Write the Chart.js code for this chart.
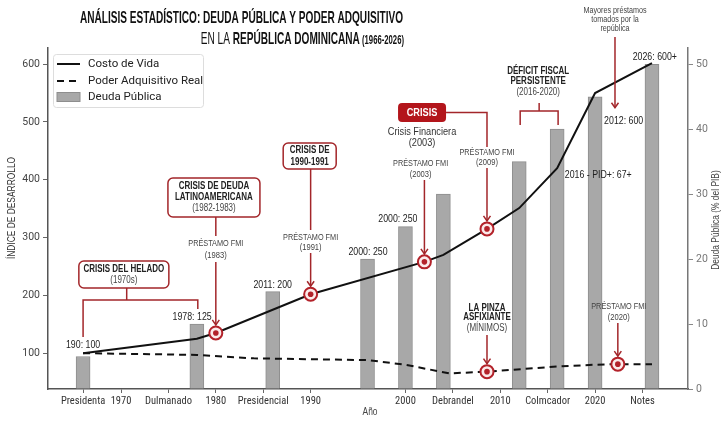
<!DOCTYPE html>
<html lang="es">
<head>
<meta charset="UTF-8">
<title>Deuda Pública y Poder Adquisitivo - República Dominicana</title>
<style>
  body { margin: 0; background: #ffffff; }
  #wrap { width: 728px; height: 425px; }
</style>
</head>
<body>
<div id="wrap"><canvas id="chart" width="728" height="425"></canvas></div>

<script src="https://cdn.jsdelivr.net/npm/chart.js@4.4.1/dist/chart.umd.min.js"></script>
<script>
  // --- data ---
  const costYears  = [1966, 1978, 1980, 1990, 2002, 2004, 2008.6, 2012, 2016, 2020, 2026];
  const costValues = [100, 125, 135, 202, 258, 270, 315, 351, 420, 550, 602];

  const realYears  = [1966, 1978, 1984, 1996, 2000, 2004.6, 2008.6, 2016, 2020, 2022.4, 2026];
  const realValues = [100, 97, 91, 88, 80, 65, 68, 77, 80, 81, 81];

  const debtYears  = [1966, 1978, 1986, 1996, 2000, 2004, 2012, 2016, 2020, 2026];
  const debtValues = [5, 10, 15, 20, 25, 30, 35, 40, 45, 50];

  const xTickValues = [1966, 1970, 1975, 1980, 1985, 1990, 2000, 2005, 2010, 2015, 2020, 2025];
  const xTickLabels = ['Presidenta', '1970', 'Dulmanado', '1980', 'Presidencial', '1990',
                       '2000', 'Debrandel', '2010', 'Colmcador', '2020', 'Notes'];
  const leftTicks  = [100, 200, 300, 400, 500, 600];
  const rightTicks = [0, 10, 20, 30, 40, 50];

  // points that get a red ring marker
  const costMarks = [1980, 1990, 2002, 2008.6];
  const realMarks = [2008.6, 2022.4];

  const RED = '#a3262a';
  const NARROW = 0.8;

  const pts = (xs, ys) => xs.map((x, i) => ({ x: x, y: ys[i] }));

  // --- small drawing helpers ---
  function txt(ctx, s, x, y, size, opt) {
    opt = opt || {};
    ctx.save();
    ctx.font = (opt.bold ? 'bold ' : '') + size + 'px "Liberation Sans", Arial, sans-serif';
    ctx.fillStyle = opt.color || '#222';
    ctx.textBaseline = 'middle';
    const sx = opt.sx || NARROW;
    const w = ctx.measureText(s).width * sx;
    const left = opt.align === 'left' ? x : opt.align === 'right' ? x - w : x - w / 2;
    ctx.translate(left, y);
    ctx.scale(sx, 1);
    ctx.fillText(s, 0, 0);
    ctx.restore();
    return w;
  }
  function poly(ctx, p, color, w) {
    ctx.save();
    ctx.strokeStyle = color; ctx.lineWidth = w || 1.5;
    ctx.beginPath();
    ctx.moveTo(p[0][0], p[0][1]);
    for (let i = 1; i < p.length; i++) ctx.lineTo(p[i][0], p[i][1]);
    ctx.stroke();
    ctx.restore();
  }
  function arrow(ctx, x, y1, y2) {
    poly(ctx, [[x, y1], [x, y2]], RED, 1.5);
    poly(ctx, [[x - 3.5, y2 - 5], [x, y2], [x + 3.5, y2 - 5]], RED, 1.5);
  }
  function ring(ctx, x, y) {
    ctx.save();
    ctx.beginPath(); ctx.arc(x, y, 6.5, 0, Math.PI * 2);
    ctx.fillStyle = '#fbeaea'; ctx.fill();
    ctx.lineWidth = 2; ctx.strokeStyle = '#b3222a'; ctx.stroke();
    ctx.beginPath(); ctx.arc(x, y, 2.8, 0, Math.PI * 2);
    ctx.fillStyle = '#b3222a'; ctx.fill();
    ctx.restore();
  }
  function box(ctx, cx, cy, w, h, fill) {
    ctx.save();
    ctx.beginPath();
    ctx.roundRect(cx - w / 2, cy - h / 2, w, h, 5);
    ctx.fillStyle = fill || '#ffffff'; ctx.fill();
    ctx.lineWidth = 1.5; ctx.strokeStyle = RED; ctx.stroke();
    ctx.restore();
  }

  const annotations = {
    id: 'annotations',
    afterDraw(chart) {
      const { ctx } = chart;
      const xs = chart.scales.x, ys = chart.scales.y;
      const X = v => xs.getPixelForValue(v);
      const Y = v => ys.getPixelForValue(v);
      const costAt = yr => costValues[costYears.indexOf(yr)];
      const realAt = yr => realValues[realYears.indexOf(yr)];

      // title
      ctx.save();
      ctx.font = 'bold 17px "Liberation Sans", Arial, sans-serif';
      const t1 = 'ANÁLISIS ESTADÍSTICO: DEUDA PÚBLICA Y PODER ADQUISITIVO';
      const tsx = 323 / ctx.measureText(t1).width;
      ctx.restore();
      txt(ctx, t1, 80, 18, 17, { bold: true, sx: tsx, align: 'left', color: '#111' });
      const parts = [['EN LA ', 17, false], ['REPÚBLICA DOMINICANA', 17, true], [' (1966-2026)', 13, true]];
      let wTot = 0;
      parts.forEach(p => {
        ctx.font = (p[2] ? 'bold ' : '') + p[1] + 'px "Liberation Sans", Arial, sans-serif';
        wTot += ctx.measureText(p[0]).width * tsx;
      });
      let cx = 404 - wTot;
      parts.forEach(p => {
        cx += txt(ctx, p[0], cx, p[1] === 17 ? 39 : 40, p[1], { bold: p[2], sx: tsx, align: 'left', color: '#111' });
      });

      // axis titles
      ctx.save(); ctx.translate(12, 208); ctx.rotate(-Math.PI / 2);
      txt(ctx, 'ÍNDICE DE DESARROLLO', 0, 0, 10.5, { color: '#333' });
      ctx.restore();
      ctx.save(); ctx.translate(716, 220); ctx.rotate(-Math.PI / 2);
      txt(ctx, 'Deuda Pública (% del PIB)', 0, 0, 10.5, { color: '#444' });
      ctx.restore();
      txt(ctx, 'Año', 370, 412, 10.5, { color: '#444' });

      // legend
      ctx.save();
      ctx.beginPath(); ctx.roundRect(53.5, 54.5, 150, 53, 3);
      ctx.fillStyle = 'rgba(255,255,255,0.9)'; ctx.fill();
      ctx.strokeStyle = '#dddddd'; ctx.lineWidth = 1; ctx.stroke();
      ctx.restore();
      const ds = chart.data.datasets;
      ctx.save();
      ctx.lineWidth = 2; ctx.strokeStyle = ds[0].borderColor;
      ctx.beginPath(); ctx.moveTo(57, 64); ctx.lineTo(80, 64); ctx.stroke();
      ctx.setLineDash(ds[1].borderDash); ctx.strokeStyle = ds[1].borderColor;
      ctx.beginPath(); ctx.moveTo(57, 81); ctx.lineTo(80, 81); ctx.stroke();
      ctx.setLineDash([]);
      ctx.fillStyle = ds[2].backgroundColor; ctx.fillRect(57, 92.5, 23, 9);
      ctx.strokeStyle = ds[2].borderColor; ctx.lineWidth = 1; ctx.strokeRect(57, 92.5, 23, 9);
      ctx.font = '11.5px Roboto, sans-serif'; ctx.fillStyle = '#222'; ctx.textBaseline = 'middle';
      ds.forEach((d, i) => ctx.fillText(d.label, 88, [64, 81, 97][i]));
      ctx.restore();

      // markers on the lines
      costMarks.forEach(yr => ring(ctx, X(yr), Y(costAt(yr))));
      realMarks.forEach(yr => ring(ctx, X(yr), Y(realAt(yr))));

      // value labels
      txt(ctx, '190: 100', X(1966), Y(114), 11, { color: '#222' });
      txt(ctx, '1978: 125', X(1977.5), Y(163), 11, { color: '#222' });
      txt(ctx, '2011: 200', X(1986), Y(218.7), 11, { color: '#222' });
      txt(ctx, '2000: 250', X(1996.05), Y(275.8), 11, { color: '#222' });
      txt(ctx, '2000: 250', X(1999.2), Y(332.9), 11, { color: '#222' });
      txt(ctx, '2012: 600', X(2020.95), Y(501.7), 11, { color: '#222', align: 'left' });
      txt(ctx, '2016 - PID+: 67+', X(2016.8), Y(408.3), 11, { color: '#222', align: 'left' });
      txt(ctx, '2026: 600+', X(2026.3), Y(613), 11, { color: '#222' });

      // crisis del helado
      box(ctx, X(1970.3), Y(236.2), 90, 27);
      txt(ctx, 'CRISIS DEL HELADO', X(1970.3), Y(236.2) - 5.5, 10.5, { bold: true, sx: 0.76 });
      txt(ctx, '(1970s)', X(1970.3), Y(236.2) + 5.5, 10, { color: '#444' });
      poly(ctx, [[X(1970.6), Y(236.2) + 13.5], [X(1970.6), Y(192)]], RED);
      poly(ctx, [[X(1966), Y(128)], [X(1966), Y(192)], [X(1978.1), Y(192)], [X(1978.1), Y(176.5)]], RED);

      // crisis de deuda latinoamericana
      const d1 = [X(1979.8), Y(369.4)];
      box(ctx, d1[0], d1[1], 92, 39);
      txt(ctx, 'CRISIS DE DEUDA', d1[0], d1[1] - 11, 10.5, { bold: true, sx: 0.76 });
      txt(ctx, 'LATINOAMERICANA', d1[0], d1[1], 10.5, { bold: true, sx: 0.76 });
      txt(ctx, '(1982-1983)', d1[0], d1[1] + 11, 10, { color: '#444' });
      poly(ctx, [[X(1980), d1[1] + 19.5], [X(1980), Y(302.8)]], RED);
      txt(ctx, 'PRÉSTAMO FMI', X(1980), Y(290.6), 9.5, { color: '#444', sx: 0.77 });
      txt(ctx, '(1983)', X(1980), Y(269.9), 9.5, { color: '#444' });
      arrow(ctx, X(1980), Y(257.8), Y(costAt(1980)) - 8);

      // crisis de 1990-1991
      const d2 = [X(1989.9), Y(441.2)];
      box(ctx, d2[0], d2[1], 53, 26);
      txt(ctx, 'CRISIS DE', d2[0], d2[1] - 6, 10.5, { bold: true, sx: 0.76 });
      txt(ctx, '1990-1991', d2[0], d2[1] + 6, 10.5, { bold: true, sx: 0.76 });
      poly(ctx, [[X(1990), d2[1] + 13], [X(1990), Y(313.1)]], RED);
      txt(ctx, 'PRÉSTAMO FMI', X(1990), Y(301), 9.5, { color: '#444', sx: 0.77 });
      txt(ctx, '(1991)', X(1990), Y(283.7), 9.5, { color: '#444' });
      arrow(ctx, X(1990), Y(273.3), Y(costAt(1990)) - 8);

      // préstamo 2003
      txt(ctx, 'PRÉSTAMO FMI', X(2001.6), Y(429), 9.5, { color: '#444', sx: 0.77 });
      txt(ctx, '(2003)', X(2001.6), Y(410), 9.5, { color: '#444' });
      arrow(ctx, X(2002), Y(399.6), Y(costAt(2002)) - 8);

      // crisis financiera
      const c3 = [X(2001.75), Y(516.4)];
      poly(ctx, [[c3[0] + 24, c3[1]], [X(2008.6), c3[1]], [X(2008.6), Y(456.7)]], RED);
      ctx.save();
      ctx.beginPath(); ctx.roundRect(c3[0] - 24, c3[1] - 9.5, 48, 19, 4);
      ctx.fillStyle = '#b3151b'; ctx.fill();
      ctx.restore();
      txt(ctx, 'CRISIS', c3[0], c3[1], 11.5, { bold: true, color: '#ffffff', sx: 0.8 });
      txt(ctx, 'Crisis Financiera', c3[0], Y(482.6), 11.5, { color: '#333' });
      txt(ctx, '(2003)', c3[0], Y(463.6), 11.5, { color: '#333' });
      txt(ctx, 'PRÉSTAMO FMI', X(2008.6), Y(448), 9.5, { color: '#444', sx: 0.77 });
      txt(ctx, '(2009)', X(2008.6), Y(430.8), 9.5, { color: '#444' });
      arrow(ctx, X(2008.6), Y(420.4), Y(costAt(2008.6)) - 8);

      // déficit fiscal persistente
      txt(ctx, 'DÉFICIT FISCAL', X(2014), Y(588.2), 10.5, { bold: true, sx: 0.76 });
      txt(ctx, 'PERSISTENTE', X(2014), Y(570.9), 10.5, { bold: true, sx: 0.76 });
      txt(ctx, '(2016-2020)', X(2014), Y(551.9), 10, { color: '#444' });
      poly(ctx, [[X(2014.1), Y(532.8)], [X(2014.1), Y(519)]], RED);
      poly(ctx, [[X(2012.1), Y(494.8)], [X(2012.1), Y(519)], [X(2016.1), Y(519)], [X(2016.1), Y(494.8)]], RED);

      // mayores préstamos
      txt(ctx, 'Mayores préstamos', X(2022.1), Y(693.7), 9, { color: '#444' });
      txt(ctx, 'tomados por la', X(2022.1), Y(677.3), 9, { color: '#444' });
      txt(ctx, 'república', X(2022.1), Y(660.9), 9, { color: '#444' });
      arrow(ctx, X(2022.1), Y(647), Y(524.7));

      // la pinza asfixiante
      txt(ctx, 'LA PINZA', X(2008.6), Y(178.2), 10.5, { bold: true, sx: 0.76 });
      txt(ctx, 'ASFIXIANTE', X(2008.6), Y(162.6), 10.5, { bold: true, sx: 0.76 });
      txt(ctx, '(MÍNIMOS)', X(2008.6), Y(143.6), 10, { color: '#444' });
      arrow(ctx, X(2008.6), Y(131.5), Y(realAt(2008.6)) - 8);

      // préstamo 2020
      txt(ctx, 'PRÉSTAMO FMI', X(2022.5), Y(181.7), 9.5, { color: '#444', sx: 0.77 });
      txt(ctx, '(2020)', X(2022.5), Y(162.6), 9.5, { color: '#444' });
      arrow(ctx, X(2022.4), Y(152.2), Y(realAt(2022.4)) - 8);
    }
  };

  const tickFont = { family: 'Roboto, sans-serif', size: 10.5 };

  new Chart(document.getElementById('chart'), {
    type: 'bar',
    data: {
      datasets: [
        {
          type: 'line',
          label: 'Costo de Vida',
          data: pts(costYears, costValues),
          borderColor: '#111111',
          borderWidth: 2,
          pointRadius: 0,
          tension: 0,
          yAxisID: 'y',
          order: 1
        },
        {
          type: 'line',
          label: 'Poder Adquisitivo Real',
          data: pts(realYears, realValues),
          borderColor: '#111111',
          borderWidth: 2,
          borderDash: [7, 5],
          pointRadius: 0,
          tension: 0,
          yAxisID: 'y',
          order: 2
        },
        {
          type: 'bar',
          label: 'Deuda Pública',
          data: pts(debtYears, debtValues),
          backgroundColor: '#a8a8a8',
          borderColor: '#8e8e8e',
          borderWidth: 1,
          barThickness: 14,
          yAxisID: 'y1',
          order: 3
        }
      ]
    },
    options: {
      responsive: false,
      animation: false,
      layout: { padding: { top: 48, left: 0, right: 0, bottom: 0 } },
      plugins: { legend: { display: false }, tooltip: { enabled: false } },
      scales: {
        x: {
          type: 'linear',
          min: 1962.3,
          max: 2029.8,
          offset: false,
          afterBuildTicks: s => { s.ticks = xTickValues.map(v => ({ value: v })); },
          afterFit: s => { s.height = 36; },
          ticks: {
            autoSkip: false, maxRotation: 0, padding: 2,
            color: '#333',
            font: { family: '"Liberation Sans Narrow", "Roboto Condensed", "DejaVu Sans Condensed", sans-serif', size: 10.5 },
            callback: v => xTickLabels[xTickValues.indexOf(v)]
          },
          grid: { drawOnChartArea: false, offset: false, tickLength: 4, color: '#666' },
          border: { color: '#555', width: 1.5 }
        },
        y: {
          position: 'left',
          min: 38,
          max: 628,
          afterBuildTicks: s => { s.ticks = leftTicks.map(v => ({ value: v })); },
          afterFit: s => { s.width = 48; },
          ticks: { color: '#444', font: tickFont, padding: 3 },
          grid: { drawOnChartArea: false, tickLength: 5, color: '#666' },
          border: { color: '#555', width: 1.5 }
        },
        y1: {
          position: 'right',
          min: 0,
          max: 52.5,
          afterBuildTicks: s => { s.ticks = rightTicks.map(v => ({ value: v })); },
          afterFit: s => { s.width = 40; },
          ticks: { color: '#777', font: tickFont, padding: 3 },
          grid: { drawOnChartArea: false, tickLength: 5, color: '#888' },
          border: { color: '#777', width: 1.5 }
        }
      }
    },
    plugins: [annotations]
  });
</script>
</body>
</html>
